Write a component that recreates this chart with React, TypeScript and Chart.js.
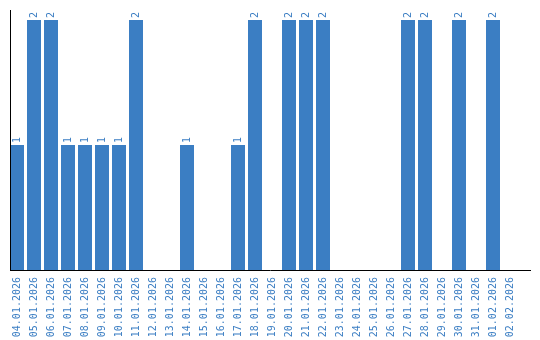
import React, { useEffect, useRef } from "react";
import { Chart, registerables } from "chart.js";

Chart.register(...registerables);

const categories = [
  "04.01.2026", "05.01.2026", "06.01.2026", "07.01.2026", "08.01.2026",
  "09.01.2026", "10.01.2026", "11.01.2026", "12.01.2026", "13.01.2026",
  "14.01.2026", "15.01.2026", "16.01.2026", "17.01.2026", "18.01.2026",
  "19.01.2026", "20.01.2026", "21.01.2026", "22.01.2026", "23.01.2026",
  "24.01.2026", "25.01.2026", "26.01.2026", "27.01.2026", "28.01.2026",
  "29.01.2026", "30.01.2026", "31.01.2026", "01.02.2026", "02.02.2026",
];

const values = [
  1, 2, 2, 1, 1, 1, 1, 2, 0, 0,
  1, 0, 0, 1, 2, 0, 2, 2, 2, 0,
  0, 0, 0, 2, 2, 0, 2, 0, 2, 0,
];

const BLUE = "#3b7ec3";
const FONT = "'DejaVu Sans Mono', 'Liberation Mono', monospace";

const overlayPlugin = {
  id: "overlay",
  afterDatasetsDraw(chart: any) {
    const ctx = chart.ctx;
    const meta = chart.getDatasetMeta(0);
    ctx.save();
    ctx.fillStyle = BLUE;
    ctx.font = `10px ${FONT}`;
    ctx.textAlign = "left";
    ctx.textBaseline = "middle";
    meta.data.forEach((bar: any, i: number) => {
      const v = values[i];
      if (!v) return;
      ctx.save();
      ctx.translate(bar.x, bar.y - 2);
      ctx.rotate(-Math.PI / 2);
      ctx.fillText(String(v), 0, 0);
      ctx.restore();
    });
    ctx.restore();
  },
  afterDraw(chart: any) {
    const ctx = chart.ctx;
    const a = chart.chartArea;
    ctx.save();
    ctx.strokeStyle = "#000";
    ctx.lineWidth = 1;
    ctx.beginPath();
    ctx.moveTo(10.5, 10);
    ctx.lineTo(10.5, a.bottom);
    ctx.stroke();
    ctx.beginPath();
    ctx.moveTo(10, a.bottom + 0.5);
    ctx.lineTo(531, a.bottom + 0.5);
    ctx.stroke();
    ctx.restore();
  },
};

export default function App() {
  const ref = useRef<HTMLCanvasElement | null>(null);
  useEffect(() => {
    if (!ref.current) return;
    const chart = new Chart(ref.current, {
      type: "bar",
      data: {
        labels: categories,
        datasets: [
          {
            data: values,
            backgroundColor: BLUE,
            borderWidth: 0,
            barPercentage: 14 / 17,
            categoryPercentage: 1,
          },
        ],
      },
      options: {
        responsive: false,
        animation: false,
        devicePixelRatio: 1,
        layout: { padding: { left: 8.5, right: 21.5, top: 20, bottom: 0 } },
        plugins: {
          legend: { display: false },
          tooltip: { enabled: false },
          title: { display: false },
        },
        scales: {
          x: {
            grid: { display: false, drawTicks: false },
            border: { display: false },
            afterFit(scale: any) {
              scale.height = 70;
            },
            ticks: {
              autoSkip: false,
              maxRotation: 90,
              minRotation: 90,
              padding: 7,
              color: BLUE,
              font: { family: FONT, size: 10 },
            },
          },
          y: {
            display: false,
            min: 0,
            max: 2,
          },
        },
      },
      plugins: [overlayPlugin],
    });
    return () => chart.destroy();
  }, []);
  return (
    <div style={{ position: "absolute", left: 0, top: 0, width: 540, height: 340, background: "#fff" }}>
      <canvas ref={ref} width={540} height={340} />
    </div>
  );
}
